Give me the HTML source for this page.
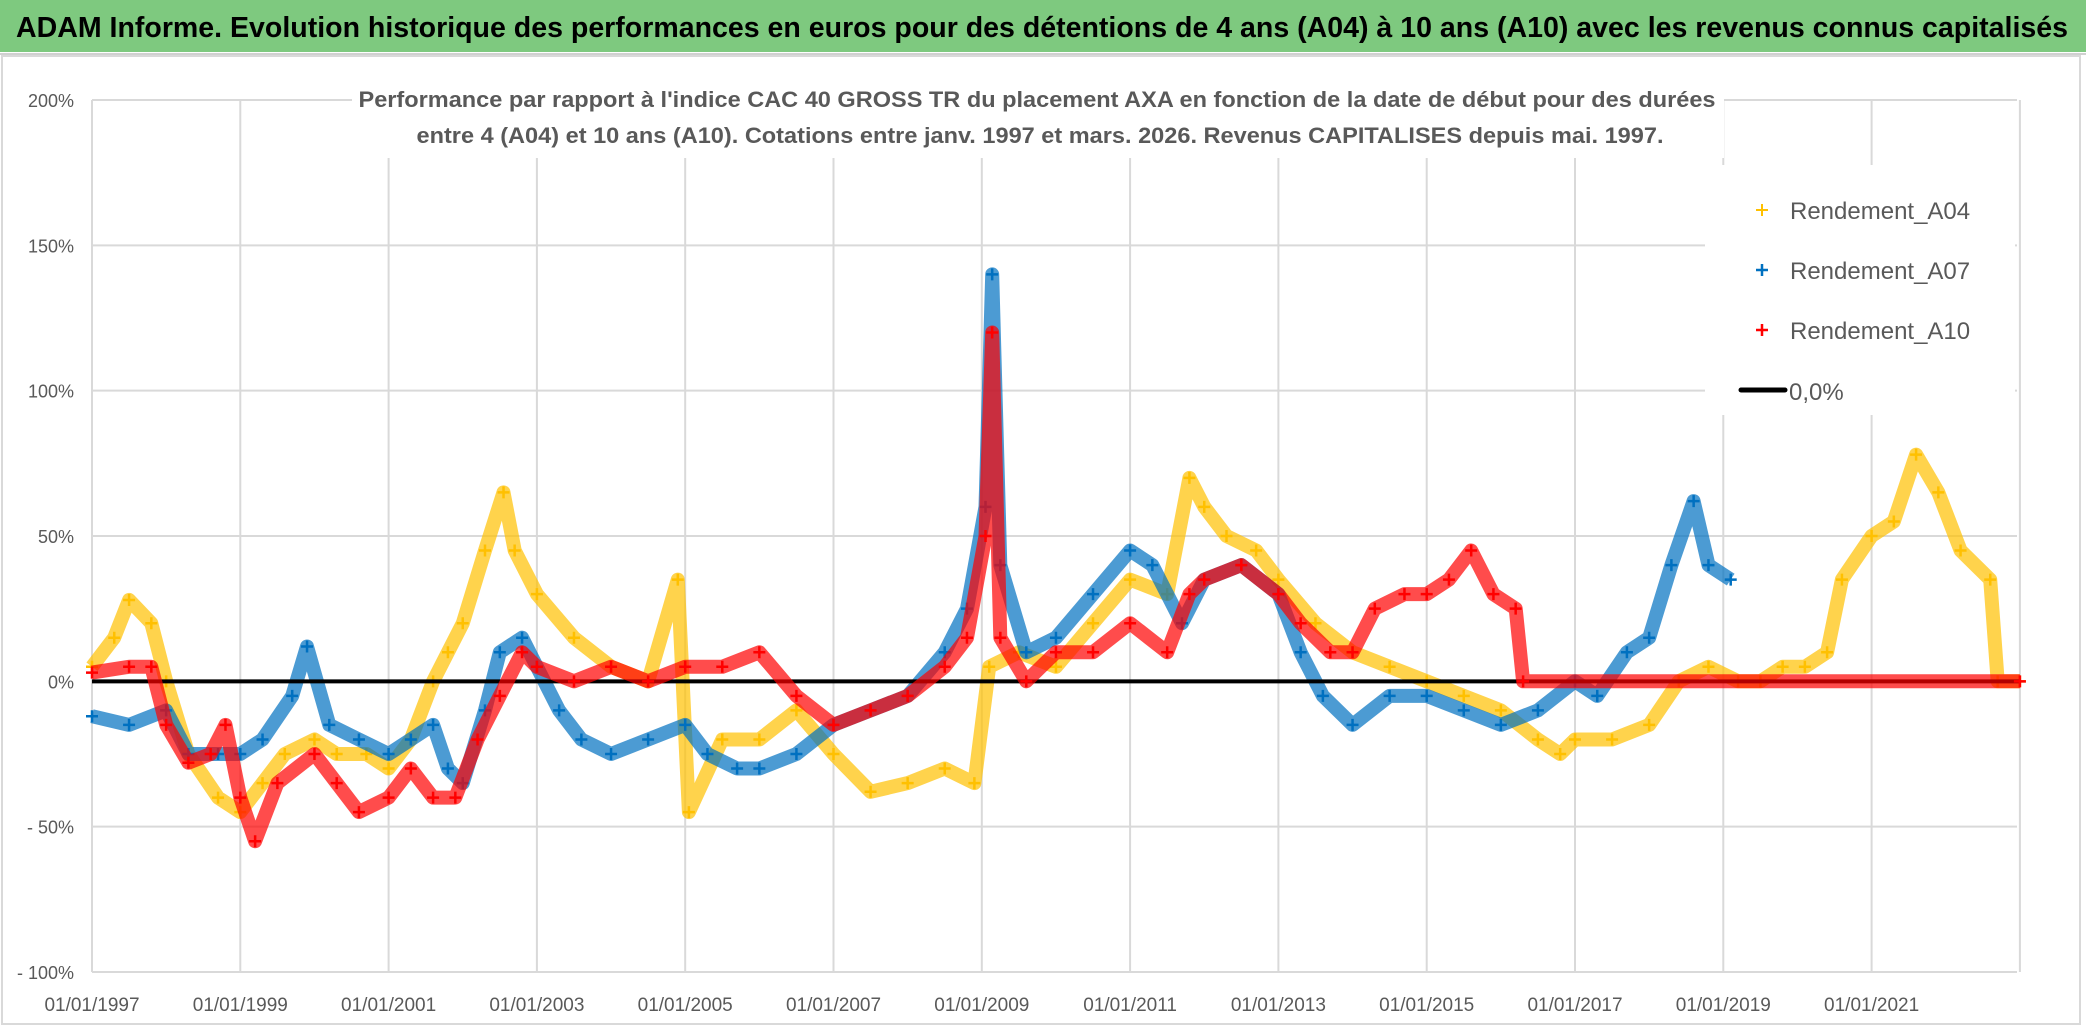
<!DOCTYPE html>
<html><head><meta charset="utf-8"><style>
html,body{margin:0;padding:0;background:#fff;}
svg{display:block;}
</style></head><body>
<svg id="chart" width="2086" height="1031" viewBox="0 0 2086 1031" xmlns="http://www.w3.org/2000/svg" font-family="'Liberation Sans', sans-serif">
<rect x="0" y="0" width="2086" height="1031" fill="#fff"/>
<rect x="0" y="0" width="2086" height="52" fill="#7ec97f"/>
<line x1="0" y1="54" x2="2086" y2="54" stroke="#d0d0d0" stroke-width="2"/>
<text x="16" y="37" font-size="29" font-weight="bold" fill="#000" textLength="2052" lengthAdjust="spacingAndGlyphs">ADAM Informe. Evolution historique des performances en euros pour des détentions de 4 ans (A04) à 10 ans (A10) avec les revenus connus capitalisés</text>
<rect x="2" y="56" width="2078" height="968" fill="none" stroke="#d9d9d9" stroke-width="2"/>
<g id="grid"></g>
<g id="series"></g>
<rect x="352" y="80" width="1372" height="78" fill="#fff"/>
<text x="1037" y="107" font-size="22" font-weight="bold" fill="#595959" text-anchor="middle" textLength="1357" lengthAdjust="spacingAndGlyphs">Performance par rapport à l'indice CAC 40 GROSS TR  du placement AXA en fonction de la date de début pour des durées</text>
<text x="1040" y="143" font-size="22" font-weight="bold" fill="#595959" text-anchor="middle" textLength="1247" lengthAdjust="spacingAndGlyphs">entre 4 (A04) et 10 ans (A10). Cotations entre janv. 1997 et mars. 2026. Revenus CAPITALISES depuis mai. 1997.</text>
<g>
<rect x="1705" y="165" width="310" height="250" fill="#fff"/>
<g><path d="M1756 210h12M1762 204v12" stroke="#ffc000" stroke-width="2"/><text x="1790" y="219" font-size="24" fill="#595959">Rendement_A04</text></g>
<g><path d="M1756 270h12M1762 264v12" stroke="#0070c0" stroke-width="2.5"/><text x="1790" y="279" font-size="24" fill="#595959">Rendement_A07</text></g>
<g><path d="M1756 330h12M1762 324v12" stroke="#ff0000" stroke-width="2.5"/><text x="1790" y="339" font-size="24" fill="#595959">Rendement_A10</text></g>
<g><line x1="1741" y1="390" x2="1785" y2="390" stroke="#000" stroke-width="5" stroke-linecap="round"/><text x="1789" y="400" font-size="24" fill="#595959">0,0%</text></g>
</g>
</svg>
<script>
const yTicks=[200,150,100,50,0,-50,-100];
const yTickLabels=["200%","150%","100%","50%","0%","- 50%","- 100%"];
const xTicks=[1997,1999,2001,2003,2005,2007,2009,2011,2013,2015,2017,2019,2021];
const xTickLabels=["01/01/1997","01/01/1999","01/01/2001","01/01/2003","01/01/2005","01/01/2007","01/01/2009","01/01/2011","01/01/2013","01/01/2015","01/01/2017","01/01/2019","01/01/2021"];
const datesA04=[1997,1997.3,1997.5,1997.8,1998,1998.3,1998.7,1999,1999.3,1999.6,2000,2000.3,2000.7,2001,2001.3,2001.6,2001.8,2002,2002.3,2002.55,2002.7,2003,2003.5,2004,2004.5,2004.9,2005.05,2005.5,2006,2006.5,2007,2007.5,2008,2008.5,2008.9,2009.1,2009.5,2010,2010.5,2011,2011.5,2011.8,2012,2012.3,2012.7,2013,2013.5,2014,2014.5,2015,2015.5,2016,2016.5,2016.8,2017,2017.5,2018,2018.4,2018.8,2019.2,2019.5,2019.8,2020.1,2020.4,2020.6,2021,2021.3,2021.6,2021.9,2022.2,2022.6,2022.7,2023];
const valuesA04=[5,15,28,20,0,-25,-40,-45,-35,-25,-20,-25,-25,-30,-20,0,10,20,45,65,45,30,15,5,0,35,-45,-20,-20,-10,-25,-38,-35,-30,-35,5,10,5,20,35,30,70,60,50,45,35,20,10,5,0,-5,-10,-20,-25,-20,-20,-15,0,5,0,0,5,5,10,35,50,55,78,65,45,35,0,0];
const datesA07=[1997,1997.5,1998,1998.3,1998.7,1999,1999.3,1999.7,1999.9,2000.2,2000.6,2001,2001.3,2001.6,2001.8,2002,2002.3,2002.5,2002.8,2003,2003.3,2003.6,2004,2004.5,2005,2005.3,2005.7,2006,2006.5,2007,2007.5,2008,2008.5,2008.8,2009.05,2009.14,2009.25,2009.6,2010,2010.5,2011,2011.3,2011.7,2012,2012.5,2013,2013.3,2013.6,2014,2014.5,2015,2015.5,2016,2016.5,2017,2017.3,2017.7,2018,2018.3,2018.6,2018.8,2019.1];
const valuesA07=[-12,-15,-10,-25,-25,-25,-20,-5,12,-15,-20,-25,-20,-15,-30,-35,-10,10,15,5,-10,-20,-25,-20,-15,-25,-30,-30,-25,-15,-10,-5,10,25,60,140,40,10,15,30,45,40,20,35,40,30,10,-5,-15,-5,-5,-10,-15,-10,0,-5,10,15,40,62,40,35];
const datesA10=[1997,1997.5,1997.8,1998,1998.3,1998.6,1998.8,1999,1999.2,1999.5,2000,2000.3,2000.6,2001,2001.3,2001.6,2001.9,2002.2,2002.5,2002.8,2003,2003.5,2004,2004.5,2005,2005.5,2006,2006.5,2007,2007.5,2008,2008.5,2008.8,2009.05,2009.14,2009.25,2009.6,2010,2010.5,2011,2011.5,2011.8,2012,2012.5,2013,2013.3,2013.7,2014,2014.3,2014.7,2015,2015.3,2015.6,2015.9,2016.2,2016.3,2023];
const valuesA10=[3,5,5,-15,-28,-25,-15,-40,-55,-35,-25,-35,-45,-40,-30,-40,-40,-20,-5,10,5,0,5,0,5,5,10,-5,-15,-10,-5,5,15,50,120,15,0,10,10,20,10,30,35,40,30,20,10,10,25,30,30,35,45,30,25,0,0];

const NS="http://www.w3.org/2000/svg";
const L=92,R=2017,T=100,B=972;
function xs(t){return L+(t-1997)*(1853.75/25);}
function ys(v){return T+(200-v)/300*(B-T);}
const grid=document.getElementById('grid');
function mk(tag,attrs,parent){const e=document.createElementNS(NS,tag);for(const k in attrs)e.setAttribute(k,attrs[k]);parent.appendChild(e);return e;}
yTicks.forEach((v,i)=>{
  const g=mk('line',{x1:L,x2:R,y1:ys(v),y2:ys(v),stroke:'#d9d9d9','stroke-width':2},grid);
  
  
  const t=mk('text',{x:74,y:ys(v)+7,'font-size':18,fill:'#595959','text-anchor':'end'},grid);
  t.textContent=yTickLabels[i];
  
  
});
xTicks.concat([2023]).forEach((yr)=>{
  const g=mk('line',{x1:xs(yr),x2:xs(yr),y1:T,y2:B,stroke:'#d9d9d9','stroke-width':2},grid);
  
  
});
xTicks.forEach((yr,i)=>{
  const t=mk('text',{x:xs(yr),y:1011,'font-size':19,fill:'#595959','text-anchor':'middle'},grid);
  t.textContent=xTickLabels[i];
  
  
});
const ser=document.getElementById('series');
function drawSeries(dates,vals,color,name){
  const g=mk('g',{},ser);
  
  
  const pts=dates.map((d,i)=>xs(d).toFixed(1)+','+ys(vals[i]).toFixed(1)).join(' ');
  mk('polyline',{points:pts,fill:'none',stroke:color,'stroke-width':14,'stroke-linejoin':'round','stroke-opacity':0.7},g);
  dates.forEach((d,i)=>{
    const x=xs(d),y=ys(vals[i]);
    const p=mk('path',{d:`M${x-6} ${y}h12M${x} ${y-6}v12`,stroke:color,'stroke-width':2.5},g);
    
    
  });
}
drawSeries(datesA04,valuesA04,'#ffc000','series-a04');
drawSeries(datesA07,valuesA07,'#0070c0','series-a07');
const zl=mk('line',{x1:xs(1997),x2:xs(2023),y1:ys(0),y2:ys(0),stroke:'#000','stroke-width':4},ser);


drawSeries(datesA10,valuesA10,'#ff0000','series-a10');
</script>
</body></html>
